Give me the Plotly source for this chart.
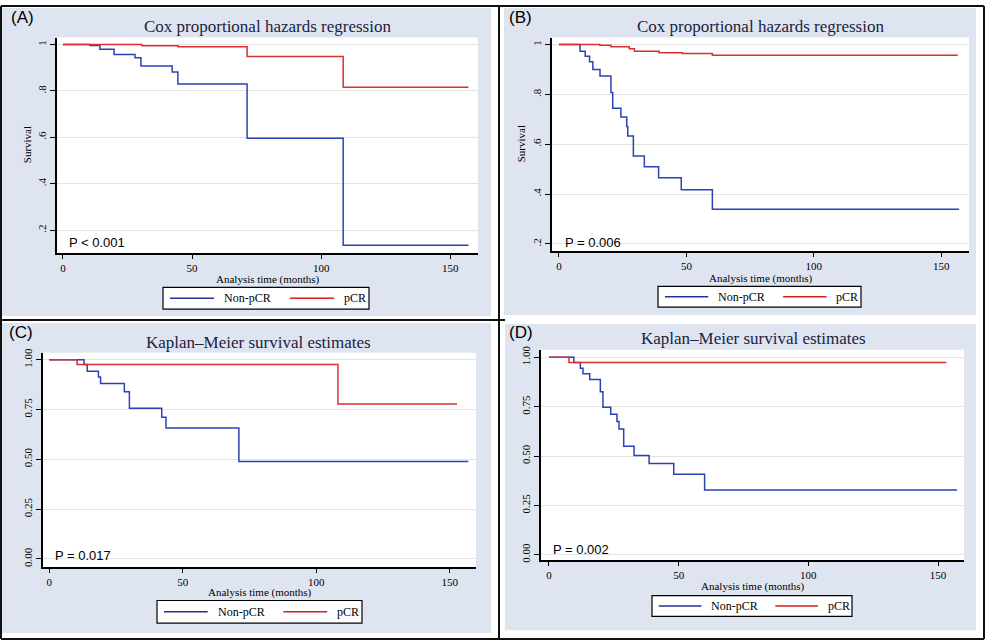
import plotly.graph_objects as go

W, H = 986, 644

# ---------------- data ----------------
A_nonpcr_t = [0, 10.5, 14.3, 19.8, 27.9, 30.2, 42.3, 44.5, 71.3, 108.5, 157]
A_nonpcr_s = [1, 0.996, 0.98, 0.957, 0.943, 0.908, 0.882, 0.83, 0.596, 0.135, 0.135]
A_pcr_t = [0, 30.6, 44.6, 71.3, 108.5, 157]
A_pcr_s = [1, 0.995, 0.99, 0.948, 0.816, 0.816]

B_nonpcr_t = [0, 8.3, 10.3, 12.0, 13.3, 16.1, 20.4, 21.1, 24.3, 26.6, 27.0, 29.2, 33.5, 39.1, 48.0, 60.2, 157]
B_nonpcr_s = [1, 0.973, 0.953, 0.931, 0.90, 0.874, 0.808, 0.744, 0.709, 0.671, 0.633, 0.553, 0.51, 0.466, 0.417, 0.339, 0.339]
B_pcr_t = [0, 16, 20.4, 27.6, 29.6, 39.3, 48.4, 60.2, 156.5]
B_pcr_s = [1, 0.997, 0.991, 0.983, 0.973, 0.967, 0.964, 0.957, 0.957]

C_nonpcr_t = [0, 13.0, 14.2, 18.4, 19.2, 28.1, 30.0, 42.1, 43.7, 71.0, 156.9]
C_nonpcr_s = [1, 0.977, 0.942, 0.914, 0.881, 0.840, 0.757, 0.711, 0.658, 0.489, 0.489]
C_pcr_t = [0, 10.4, 108.1, 152.7]
C_pcr_s = [1, 0.977, 0.778, 0.778]

D_nonpcr_t = [0, 9.6, 12.1, 13.1, 15.7, 19.8, 20.8, 23.8, 26.2, 27.0, 28.8, 32.8, 38.6, 48.1, 60.0, 157.3]
D_nonpcr_s = [1, 0.973, 0.945, 0.917, 0.887, 0.825, 0.747, 0.712, 0.675, 0.637, 0.55, 0.503, 0.462, 0.408, 0.328, 0.328]
D_pcr_t = [0, 7.7, 153.2]
D_pcr_s = [1, 0.973, 0.973]

x_tickvals = [0, 50, 100, 150]
x_ticktext = ["0", "50", "100", "150"]
cox_tickvals = [0.2, 0.4, 0.6, 0.8, 1.0]
cox_ticktext = [".2", ".4", ".6", ".8", "1"]
km_tickvals = [0, 0.25, 0.5, 0.75, 1.0]
km_ticktext = ["0.00", "0.25", "0.50", "0.75", "1.00"]

panel_labels = ["(A)", "(B)", "(C)", "(D)"]
titles = ["Cox proportional hazards regression", "Cox proportional hazards regression",
          "Kaplan\u2013Meier survival estimates", "Kaplan\u2013Meier survival estimates"]
p_texts = ["P < 0.001", "P = 0.006", "P = 0.017", "P = 0.002"]
series_names = ["Non-pCR", "pCR"]

BLUE = "#2a43b3"
RED = "#d8312f"
LEG_BLUE = "#1f3399"
LEG_RED = "#d41f1f"
BG = "#dfe5f0"
SERIF = "Liberation Serif, Times New Roman, serif"
SANS = "Liberation Sans, Arial, sans-serif"

def px(x):
    return x / W

def py(y):
    return 1 - y / H

# panel geometry (pixels): plot area, ranges
panels = [
    dict(x0=57, x1=478, y0=33, y1=251, xr=[-2.3, 160.7], yr=[0.102, 1.030], tv=cox_tickvals, tt=cox_ticktext,
         data=[(A_nonpcr_t, A_nonpcr_s), (A_pcr_t, A_pcr_s)], label=(22, 13), title=(267, 22),
         ptxt=(67, 240), xtitle=278, leg=(163, 286, 369, 308), ytitle=27),
    dict(x0=552, x1=969, y0=33, y1=249, xr=[-2.73, 160.9], yr=[0.172, 1.028], tv=cox_tickvals, tt=cox_ticktext,
         data=[(B_nonpcr_t, B_nonpcr_s), (B_pcr_t, B_pcr_s)], label=(520, 13), title=(760, 22),
         ptxt=(563, 240), xtitle=277, leg=(658, 285, 861, 306), ytitle=521),
    dict(x0=43, x1=476, y0=352, y1=569, xr=[-2.36, 159.8], yr=[-0.040, 1.036], tv=km_tickvals, tt=km_ticktext,
         data=[(C_nonpcr_t, C_nonpcr_s), (C_pcr_t, C_pcr_s)], label=(21, 332), title=(258, 342),
         ptxt=(53, 557), xtitle=595, leg=(157, 603, 362, 626), ytitle=None),
    dict(x0=541, x1=964, y0=349, y1=562, xr=[-3.08, 160.0], yr=[-0.0265, 1.0385], tv=km_tickvals, tt=km_ticktext,
         data=[(D_nonpcr_t, D_nonpcr_s), (D_pcr_t, D_pcr_s)], label=(521, 332), title=(753, 338),
         ptxt=(551, 551), xtitle=589, leg=(652, 598, 852, 619), ytitle=None),
]

fig = go.Figure()
layout = dict(width=W, height=H, margin=dict(l=0, r=0, t=0, b=0),
              paper_bgcolor="white", plot_bgcolor="white", showlegend=False)
annotations = []
shapes = []

# backgrounds of panels
bgs = [(2, 3, 491, 315), (504, 3, 976, 314), (2, 322, 491, 636), (505, 323, 976, 633)]
for (a, b, c, d) in bgs:
    shapes.append(dict(type="rect", xref="paper", yref="paper", x0=px(a), x1=px(c), y0=py(d), y1=py(b),
                       fillcolor=BG, line=dict(width=0), layer="below"))
# frame and dividers
frame_lines = [(1, 1, 984, 1), (1, 642, 984, 642), (1, 1, 1, 642), (984, 1, 984, 642),
               (499, 1, 499, 642), (1, 319, 505, 319)]
for (a, b, c, d) in frame_lines:
    shapes.append(dict(type="line", xref="paper", yref="paper", x0=px(a), x1=px(c), y0=py(b), y1=py(d),
                       line=dict(color="#111111", width=2)))

for i, p in enumerate(panels):
    n = "" if i == 0 else str(i + 1)
    xa, ya = "xaxis" + n, "yaxis" + n
    # white plot area (cover background)
    shapes.append(dict(type="rect", xref="paper", yref="paper", x0=px(p["x0"]), x1=px(p["x1"]),
                       y0=py(p["y1"]), y1=py(p["y0"]), fillcolor="white", line=dict(width=0), layer="below"))
    layout[xa] = dict(domain=[px(p["x0"]), px(p["x1"])], range=p["xr"], anchor="y" + n,
                      tickvals=x_tickvals, ticktext=x_ticktext, ticks="outside", ticklen=4, tickwidth=1,
                      tickcolor="black", showline=True, linecolor="black", linewidth=1.5, showgrid=False,
                      zeroline=False, tickfont=dict(family=SERIF, size=11, color="black"))
    layout[ya] = dict(domain=[py(p["y1"]), py(p["y0"])], range=p["yr"], anchor="x" + n,
                      tickvals=p["tv"], ticktext=p["tt"], ticks="outside", ticklen=5, tickwidth=1,
                      tickcolor="black", showline=True, linecolor="black", linewidth=1.5, showgrid=True,
                      gridcolor="#e3e3e3", gridwidth=1, zeroline=False, tickangle=-90,
                      tickfont=dict(family=SERIF, size=11, color="black"))
    for j, ((t, s), col) in enumerate(zip(p["data"], [BLUE, RED])):
        fig.add_trace(go.Scatter(x=t, y=s, mode="lines", line=dict(color=col, width=1.5, shape="hv"),
                                 name=series_names[j], xaxis="x" + n, yaxis="y" + n))
    # legend box (drawn)
    L, T, R, B = p["leg"]
    wscale = (R - L) / 206.0
    ym = (T + B) / 2
    shapes.append(dict(type="rect", xref="paper", yref="paper", x0=px(L), x1=px(R), y0=py(B), y1=py(T),
                       fillcolor="white", line=dict(color="black", width=1.2)))
    for j, col in enumerate([LEG_BLUE, LEG_RED]):
        lx0 = L + (7 + 120 * j) * wscale
        lx1 = lx0 + 44 * wscale
        shapes.append(dict(type="line", xref="paper", yref="paper", x0=px(lx0), x1=px(lx1), y0=py(ym), y1=py(ym),
                           line=dict(color=col, width=1.5)))
        annotations.append(dict(text=series_names[j], x=px(lx1 + 8 * wscale), y=py(ym), xref="paper",
                                yref="paper", showarrow=False, xanchor="left", yanchor="middle",
                                font=dict(family=SERIF, size=12, color="black")))
    annotations += [
        dict(text=panel_labels[i], x=px(p["label"][0]), y=py(p["label"][1]), xref="paper", yref="paper",
             showarrow=False, font=dict(family=SANS, size=17, color="black"), xanchor="center", yanchor="middle"),
        dict(text=titles[i], x=px(p["title"][0]), y=py(p["title"][1]), xref="paper", yref="paper",
             showarrow=False, font=dict(family=SERIF, size=17, color="#1a2340"), xanchor="center", yanchor="middle"),
        dict(text=p_texts[i], x=px(p["ptxt"][0]), y=py(p["ptxt"][1]), xref="paper", yref="paper",
             showarrow=False, font=dict(family=SANS, size=13, color="black"), xanchor="left", yanchor="middle"),
        dict(text="Analysis time (months)", x=px((p["x0"] + p["x1"]) / 2), y=py(p["xtitle"]), xref="paper",
             yref="paper", showarrow=False, font=dict(family=SERIF, size=11, color="black"),
             xanchor="center", yanchor="middle"),
    ]
    if p["ytitle"] is not None:
        annotations.append(dict(text="Survival", x=px(p["ytitle"]), y=py((p["y0"] + p["y1"]) / 2), xref="paper",
                                yref="paper", showarrow=False, textangle=-90,
                                font=dict(family=SERIF, size=11, color="black"),
                                xanchor="center", yanchor="middle"))

layout["annotations"] = annotations
layout["shapes"] = shapes
fig.update_layout(**layout)
fig.write_html("out.html")
